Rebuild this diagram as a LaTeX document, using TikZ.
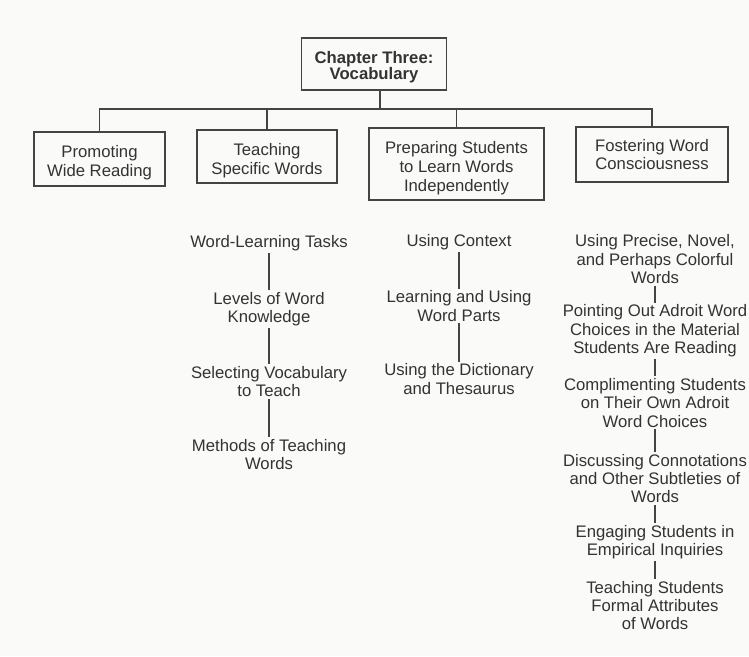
\documentclass[tikz,border=0pt]{standalone}
\usepackage{fontspec}
\setmainfont{Liberation Sans}
\definecolor{ink}{HTML}{333333}
\definecolor{rule}{HTML}{444444}
\definecolor{paper}{HTML}{FAFAF8}
\newcommand\tupA{\rule{0pt}{20pt}}
\newcommand\tupB{\rule{0pt}{18pt}}
\tikzset{
  txt/.style={align=center, text=ink, inner xsep=0pt, inner ysep=2pt,
    font=\fontsize{16.7}{18.3}\selectfont},
  boxnode/.style={txt, draw=rule, line width=1.2pt, inner sep=0pt,
    font=\fontsize{16.7}{18.8}\selectfont},
  link/.style={draw=rule, line width=1.3pt},
}
\begin{document}
\begin{tikzpicture}[x=1pt,y=-1pt]
\fill[paper] (0,0) rectangle (749,656);
\useasboundingbox (0,0) rectangle (749,656);

% top box
\node[boxnode, minimum width=145pt, minimum height=52pt, font=\fontsize{16.7}{16.5}\selectfont\bfseries] (ch) at (374,64) {\tupB Chapter Three:\\Vocabulary};

% second-level boxes
\node[boxnode, minimum width=131pt, minimum height=54pt] (b1) at (99.5,159) {\tupA Promoting\\Wide Reading};
\node[boxnode, minimum width=140pt, minimum height=53pt] (b2) at (267,156.5) {\tupA Teaching\\Specific Words};
\node[boxnode, minimum width=175pt, minimum height=72pt] (b3) at (456.5,164) {\tupA Preparing Students\\to Learn Words\\Independently};
\node[boxnode, minimum width=152pt, minimum height=55pt] (b4) at (652,154.5) {Fostering Word\\Consciousness};

% tree connectors
\coordinate (bar) at (380,109);
\draw[link] (bar |- ch.south) -- (bar);
\draw[link] (b1.north) -- (b1.north |- bar) -- (b4.north |- bar) -- (b4.north);
\draw[link] (b2.north) -- (b2.north |- bar);
\draw[link] (b3.north) -- (b3.north |- bar);

% Teaching column
\node[txt] (t1) at (269,243) {Word-Learning Tasks};
\node[txt] (t2) at (269,309) {Levels of Word\\Knowledge};
\node[txt] (t3) at (269,381.5) {Selecting Vocabulary\\to Teach};
\node[txt] (t4) at (269,454.5) {Methods of Teaching\\Words};

% Preparing column
\node[txt] (p1) at (459,242.5) {Using Context};
\node[txt] (p2) at (459,306) {Learning and Using\\Word Parts};
\node[txt] (p3) at (459,379) {Using the Dictionary\\and Thesaurus};

% Fostering column
\node[txt] (f1) at (655,259.2) {Using Precise, Novel,\\and Perhaps Colorful\\Words};
\node[txt] (f2) at (655,330.8) {Pointing Out Adroit Word\\Choices in the Material\\Students Are Reading};
\node[txt] (f3) at (655,402.8) {Complimenting Students\\on Their Own Adroit\\Word Choices};
\node[txt] (f4) at (655,478.5) {Discussing Connotations\\and Other Subtleties of\\Words};
\node[txt] (f5) at (655,542) {Engaging Students in\\Empirical Inquiries};
\node[txt] (f6) at (655,605.5) {Teaching Students\\Formal Attributes\\of Words};

% column connectors
\draw[link] (b2.south) -- (b2.south -| t1.north);
\draw[link] (t1.south) -- (t2.north);
\draw[link] (t2.south) -- (t3.north);
\draw[link] (t3.south) -- (t4.north);

\draw[link] (b3.south) -- (b3.south -| p1.north) ;
\draw[link] (p1.south) -- (p2.north);
\draw[link] (p2.south) -- (p3.north);

\draw[link] (b4.south) -- (b4.south -| f1.north);
\draw[link] (f1.south) -- (f2.north);
\draw[link] (f2.south) -- (f3.north);
\draw[link] (f3.south) -- (f4.north);
\draw[link] (f4.south) -- (f5.north);
\draw[link] (f5.south) -- (f6.north);
\end{tikzpicture}
\end{document}
